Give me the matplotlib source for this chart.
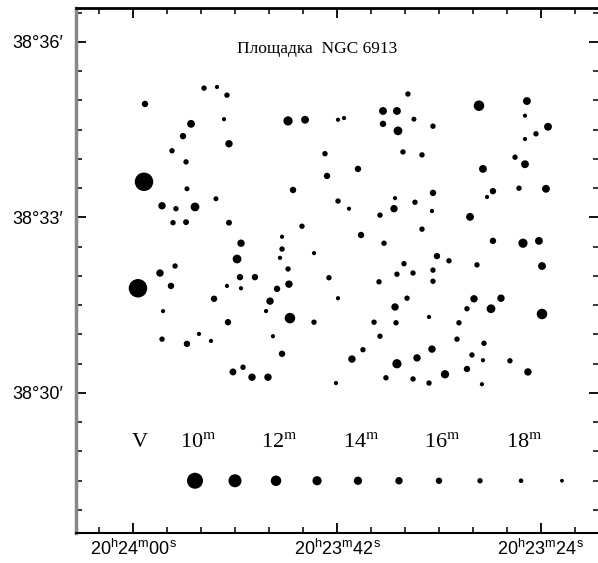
import numpy as np
import matplotlib
matplotlib.use("Agg")
import matplotlib.pyplot as plt

plt.rcParams['font.family'] = ['Liberation Sans', 'DejaVu Sans']
plt.rcParams['mathtext.fontset'] = 'custom'
plt.rcParams['mathtext.rm'] = 'Liberation Sans'

# stars: RA in seconds after 20h23m, Dec in arcmin after 38 deg, V magnitude
ra = [58.94, 53.73, 52.59, 51.71, 54.88, 55.59, 51.97, 51.53, 56.56, 55.32,
      46.32, 59.03, 55.24, 45.88, 57.44, 56.21, 54.53, 52.68, 56.47, 55.32,
      51.53, 50.47, 46.85, 46.85, 47.03, 50.82, 46.32, 56.29, 57.62, 50.56,
      49.24, 44.82, 41.91, 41.38, 37.94, 36.71, 37.94, 36.62, 35.74, 35.21,
      33.53, 29.47, 25.24, 25.41, 23.38, 24.44, 25.41, 26.29, 25.41, 29.12,
      43.06, 42.88, 40.15, 36.18, 34.50, 33.53, 36.88, 35.12, 36.97, 38.21,
      33.62, 41.91, 40.94, 28.24, 28.76, 25.94, 23.56, 30.26, 34.50, 39.88,
      37.85, 45.09, 28.24, 25.59, 24.18, 23.91, 44.03, 33.18, 32.12, 36.09,
      29.65, 36.71, 35.29, 33.53, 42.71, 59.56, 56.65, 51.71, 50.47, 47.29,
      46.24, 52.85, 47.91, 57.35, 51.62, 48.26, 46.15, 57.44, 54.18, 53.12,
      55.24, 47.65, 46.85, 51.18, 50.29, 49.50, 48.09, 38.29, 33.53, 41.91,
      35.82, 36.88, 29.91, 27.53, 30.53, 28.41, 23.91, 44.03, 38.73, 36.79,
      33.88, 31.24, 38.21, 31.41, 29.03, 39.71, 40.68, 33.62, 34.94, 36.71,
      30.09, 29.12, 26.74, 30.53, 25.15, 32.47, 42.09, 37.68, 35.29, 33.88,
      29.21]
dec = [34.94, 35.21, 35.23, 35.09, 34.60, 34.39, 34.68, 34.26, 34.14, 33.95,
       34.65, 33.61, 33.49, 33.47, 33.20, 33.15, 33.18, 33.32, 32.91, 32.92,
       32.91, 32.56, 32.67, 32.46, 32.31, 32.29, 32.12, 32.17, 32.05, 31.98,
       31.98, 34.67, 34.67, 34.70, 34.82, 34.82, 34.60, 34.48, 35.11, 34.68,
       34.56, 34.91, 34.99, 34.74, 34.55, 34.43, 34.34, 34.03, 33.91, 33.83,
       34.09, 33.71, 33.83, 34.12, 34.07, 33.42, 33.33, 33.26, 33.15, 33.04,
       33.11, 33.28, 33.15, 33.45, 33.35, 33.50, 33.49, 33.01, 32.80, 32.70,
       32.56, 32.85, 32.60, 32.56, 32.60, 32.17, 32.39, 32.34, 32.26, 32.21,
       32.19, 32.03, 32.05, 32.10, 31.97, 31.79, 31.83, 31.83, 31.79, 31.78,
       31.86, 31.61, 31.57, 31.40, 31.21, 31.40, 31.28, 30.92, 31.01, 30.89,
       30.84, 30.97, 30.67, 30.36, 30.44, 30.27, 30.27, 31.90, 31.91, 31.62,
       31.62, 31.47, 31.61, 31.62, 31.44, 31.44, 31.35, 31.21, 31.21, 31.20,
       31.30, 31.20, 30.97, 30.92, 30.85, 30.74, 30.58, 30.75, 30.60, 30.50,
       30.65, 30.56, 30.55, 30.41, 30.36, 30.32, 30.17, 30.26, 30.24, 30.17,
       30.15]
vmag = [16, 17, 18.5, 17, 14.5, 16, 18.5, 15, 17, 17,
        13, 9, 17.5, 16, 15, 17, 13.5, 17.5, 17, 16.5,
        16.5, 15, 18.5, 17, 18.5, 13.5, 17, 17, 15, 16,
        16, 14.5, 18.5, 18.5, 14.5, 14.5, 16, 13.5, 17, 17.5,
        17, 12, 14.5, 18.5, 14.5, 17, 18.5, 17, 14.5, 14.5,
        17, 16, 16, 17, 17, 16, 18.5, 17, 15, 17,
        18.5, 17, 18.5, 16, 18.5, 17, 14.5, 14.5, 17, 16,
        17, 17, 16, 13, 14.5, 14.5, 18.5, 16, 17, 17,
        17, 17, 17, 17, 17, 9, 16, 18.5, 18.5, 16,
        15, 16, 15, 18.5, 16, 18.5, 12, 17, 18.5, 18.5,
        16, 18.5, 16, 15.5, 17, 15, 15, 17, 17, 18.5,
        17, 15, 15, 15, 17, 13.5, 12, 17, 17, 17,
        18.5, 17, 17, 17, 17, 17, 15, 15, 15, 13,
        17, 18.5, 17, 16, 15, 14, 18.5, 17, 17, 17,
        18.5]

# magnitude scale at the bottom
scale_mag = [10, 11, 12, 13, 14, 15, 16, 17, 18, 19]
scale_ra = [54.53, 51.0, 47.38, 43.76, 40.15, 36.53, 33.0, 29.38, 25.76, 22.15]
scale_dec = 28.5
label_mag = [10, 12, 14, 16, 18]

ra_ticks = [60, 42, 24]
ra_labels = [r'20$^{\rm h}$24$^{\rm m}$00$^{\rm s}$',
             r'20$^{\rm h}$23$^{\rm m}$42$^{\rm s}$',
             r'20$^{\rm h}$23$^{\rm m}$24$^{\rm s}$']
dec_ticks = [30, 33, 36]
dec_labels = ['38°30′', '38°33′', '38°36′']


def dot_size(m):
    d = np.interp(m, [9, 10, 11, 12, 13, 14, 15, 16, 17, 18, 19],
                  [18.5, 16, 13, 10.5, 9.2, 8.3, 7.4, 6.4, 5.4, 4.6, 3.8])
    return (d * 0.72) ** 2


fig = plt.figure(figsize=(5.98, 5.63), dpi=100)
ax = fig.add_axes([76 / 598, 30 / 563, 523 / 598, 525 / 563])

ax.scatter(ra, dec, s=dot_size(np.array(vmag)), c='black', linewidths=0)
ax.scatter(scale_ra, [scale_dec] * len(scale_ra), s=dot_size(np.array(scale_mag)),
           c='black', linewidths=0)

serif = 'Liberation Serif'
ax.text(59.38, 29.08, 'V', family=serif, fontsize=16, ha='center', va='baseline')
for m in label_mag:
    x = scale_ra[scale_mag.index(m)] - 0.3
    ax.text(x, 29.08, r'%d$^{\rm m}$' % m, family=serif, math_fontfamily='stix',
            fontsize=16, ha='center', va='baseline')
ax.text(50.82, 35.81, 'Площадка  NGC 6913', family=serif, fontsize=12.5,
        ha='left', va='baseline')

ax.set_xlim(65.03, 18.88)
ax.set_ylim(27.607, 36.58)
ax.set_xticks(ra_ticks)
ax.set_xticklabels(ra_labels)
ax.set_xticks(np.arange(21, 64, 3), minor=True)
ax.set_yticks(dec_ticks)
ax.set_yticklabels(dec_labels)
ax.set_yticks(np.arange(28, 36.6, 0.5), minor=True)

ax.tick_params(which='both', direction='in', top=True, right=True, labelsize=13)
ax.tick_params(which='major', length=7, width=1.3)
ax.tick_params(which='minor', length=4, width=1.1)
ax.tick_params(axis='y', pad=9)
ax.tick_params(axis='x', pad=4)

ax.spines['left'].set_color('#888888')
ax.spines['left'].set_linewidth(2.5)
ax.spines['top'].set_linewidth(2)
ax.spines['bottom'].set_linewidth(1.5)

fig.savefig('out.png', dpi=100)
